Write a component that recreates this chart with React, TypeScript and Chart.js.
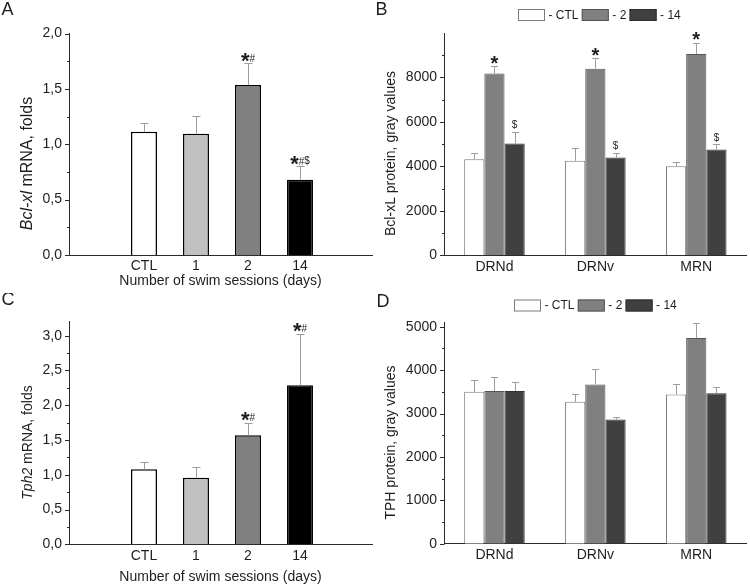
import React, { useEffect, useRef } from 'react';
import { Chart, registerables } from 'chart.js';

Chart.register(...registerables);

const FONT = '"Liberation Sans", Arial, Helvetica, sans-serif';
const INK = '#1e1e1e';
const AXIS = '#2a2a2a';
const ERR = '#9c9c9c';

// ---------- Panel A: Bcl-xl mRNA ----------
const sessionLabels = ['CTL', '1', '2', '14'];
const bclxlMrna = [1.113, 1.095, 1.535, 0.68];
const bclxlMrnaErr = [0.077, 0.157, 0.195, 0.12];
const bclxlMrnaMarks = ['', '', '*#', '*#$'];
const mrnaTicksA = [0, 0.5, 1.0, 1.5, 2.0];

// ---------- Panel C: Tph2 mRNA ----------
const tph2Mrna = [1.079, 0.958, 1.568, 2.287];
const tph2MrnaErr = [0.111, 0.149, 0.177, 0.733];
const tph2MrnaMarks = ['', '', '*#', '*#'];
const mrnaTicksC = [0, 0.5, 1.0, 1.5, 2.0, 2.5, 3.0];

const sessionFills = ['#ffffff', '#c0c0c0', '#808080', '#000000'];

// ---------- Panel B: Bcl-xL protein ----------
const regions = ['DRNd', 'DRNv', 'MRN'];
const groupNames = ['- CTL', '- 2', '- 14'];
const bclxlCTL = [4320, 4250, 4010];
const bclxlCTLErr = [290, 570, 170];
const bclxlDay2 = [8180, 8390, 9050];
const bclxlDay2Err = [320, 470, 510];
const bclxlDay14 = [5030, 4400, 4760];
const bclxlDay14Err = [520, 220, 230];
const bclxlCTLMarks = ['', '', ''];
const bclxlDay2Marks = ['*', '*', '*'];
const bclxlDay14Marks = ['$', '$', '$'];
const proteinTicksB = [0, 2000, 4000, 6000, 8000];

// ---------- Panel D: TPH protein ----------
const tphCTL = [3500, 3270, 3440];
const tphCTLErr = [270, 170, 240];
const tphDay2 = [3520, 3670, 4740];
const tphDay2Err = [330, 360, 340];
const tphDay14 = [3520, 2860, 3470];
const tphDay14Err = [210, 50, 130];
const noMarks = ['', '', ''];
const proteinTicksD = [0, 1000, 2000, 3000, 4000, 5000];

const groupFills = ['#ffffff', '#808080', '#404040'];
const groupBorders = ['#7a7a7a', '#555555', '#2e2e2e'];

type TitlePart = { text: string; italic?: boolean };
type Decor = {
  letter: string;
  letterX: number;
  letterY: number;
  title: TitlePart[];
  titleSize: number;
  titleX: number;
  titleY: number;
  majors: number[];
  minorStep: number;
  tickLimit: number;
  errors: number[][];
  marks: string[][];
  capW: number;
  starSize: number;
  smallSize: number;
  markGap: number;
  legend?: { x: number; y: number };
};

function drawMark(ctx: CanvasRenderingContext2D, s: string, cx: number, bottom: number, starSize: number, smallSize: number) {
  if (!s) return;
  const parts = s.split('').map((ch) => ({
    ch,
    font: ch === '*' ? `bold ${starSize}px ${FONT}` : `${smallSize}px ${FONT}`,
    w: 0,
    desc: 0,
  }));
  let total = 0;
  parts.forEach((p) => {
    ctx.font = p.font;
    const m = ctx.measureText(p.ch);
    p.w = m.width;
    p.desc = m.actualBoundingBoxDescent;
    total += p.w;
  });
  let x = cx - total / 2;
  ctx.fillStyle = INK;
  ctx.textAlign = 'left';
  ctx.textBaseline = 'alphabetic';
  parts.forEach((p) => {
    ctx.font = p.font;
    ctx.fillText(p.ch, x, bottom - p.desc);
    x += p.w;
  });
}

function decorPlugin(d: Decor) {
  return {
    id: 'decor' + d.letter,
    afterDraw(chart: any) {
      const ctx: CanvasRenderingContext2D = chart.ctx;
      const area = chart.chartArea;
      const ys = chart.scales.y;
      ctx.save();

      // panel letter
      ctx.fillStyle = INK;
      ctx.font = `18px ${FONT}`;
      ctx.textAlign = 'left';
      ctx.textBaseline = 'alphabetic';
      ctx.fillText(d.letter, d.letterX, d.letterY);

      // rotated y title (mixed styles)
      ctx.save();
      ctx.translate(d.titleX, d.titleY);
      ctx.rotate(-Math.PI / 2);
      ctx.textBaseline = 'middle';
      ctx.textAlign = 'left';
      const fonts = d.title.map((p) => `${p.italic ? 'italic ' : ''}${d.titleSize}px ${FONT}`);
      let tw = 0;
      const widths = d.title.map((p, i) => {
        ctx.font = fonts[i];
        const w = ctx.measureText(p.text).width;
        tw += w;
        return w;
      });
      let tx = -tw / 2;
      d.title.forEach((p, i) => {
        ctx.font = fonts[i];
        ctx.fillText(p.text, tx, 0);
        tx += widths[i];
      });
      ctx.restore();

      // y tick marks (major and minor, outward)
      ctx.strokeStyle = AXIS;
      ctx.lineWidth = 1;
      const left = Math.round(area.left) + 0.5;
      const n = Math.floor(d.tickLimit / d.minorStep + 1e-9);
      for (let i = 0; i <= n; i++) {
        const v = i * d.minorStep;
        const isMajor = d.majors.some((m) => Math.abs(m - v) < 1e-6);
        const y = Math.round(ys.getPixelForValue(v)) + 0.5;
        const len = isMajor ? 4.5 : 2.5;
        ctx.beginPath();
        ctx.moveTo(left - len, y);
        ctx.lineTo(left, y);
        ctx.stroke();
      }

      // error bars and significance marks
      chart.data.datasets.forEach((_ds: any, di: number) => {
        const meta = chart.getDatasetMeta(di);
        meta.data.forEach((el: any, i: number) => {
          const parsed = meta.controller.getParsed(i);
          const val = parsed.y;
          const err = d.errors[di][i];
          const yTop = el.y;
          const yErr = ys.getPixelForValue(val + err);
          const xx = Math.round(el.x) + 0.5;
          ctx.strokeStyle = ERR;
          ctx.lineWidth = 1;
          ctx.beginPath();
          ctx.moveTo(xx, yTop);
          ctx.lineTo(xx, Math.round(yErr) + 0.5);
          ctx.moveTo(xx - d.capW / 2, Math.round(yErr) + 0.5);
          ctx.lineTo(xx + d.capW / 2, Math.round(yErr) + 0.5);
          ctx.stroke();
          drawMark(ctx, d.marks[di][i], el.x, yErr - d.markGap, d.starSize, d.smallSize);
        });
      });

      // legend
      if (d.legend) {
        let x = d.legend.x;
        const y = d.legend.y;
        const bw = 27;
        const bh = 12;
        ctx.font = `12px ${FONT}`;
        ctx.textBaseline = 'middle';
        ctx.textAlign = 'left';
        groupNames.forEach((name, k) => {
          ctx.fillStyle = groupFills[k];
          ctx.fillRect(x, y, bw, bh);
          ctx.strokeStyle = groupBorders[k];
          ctx.lineWidth = 1;
          ctx.strokeRect(x + 0.5, y + 0.5, bw - 1, bh - 1);
          ctx.fillStyle = INK;
          ctx.fillText(name, x + bw + 3.5, y + bh / 2 + 0.5);
          x += bw + 3.5 + ctx.measureText(name).width + 3.3;
        });
      }
      ctx.restore();
    },
  };
}

const tickFont = { family: FONT, size: 14 };

function mrnaConfig(values: number[], ticks: number[], yMax: number, topPad: number, xAxisHeight: number, titlePad: number, decor: Decor): any {
  return {
    type: 'bar',
    data: {
      datasets: [
        {
          data: values.map((v, i) => ({ x: i, y: v })),
          backgroundColor: sessionFills,
          borderColor: '#000000',
          borderWidth: 1.5,
          borderSkipped: 'start',
          categoryPercentage: 0.5,
          barPercentage: 1,
        },
      ],
    },
    options: {
      responsive: false,
      animation: false,
      devicePixelRatio: 1,
      layout: { padding: { top: topPad, right: 3, bottom: 0, left: 0 } },
      plugins: { legend: { display: false }, tooltip: { enabled: false } },
      scales: {
        x: {
          type: 'linear',
          min: -1.442,
          max: 4.385,
          offset: false,
          afterBuildTicks: (s: any) => {
            s.ticks = sessionLabels.map((_, i) => ({ value: i }));
          },
          afterFit: (s: any) => {
            s.height = xAxisHeight;
          },
          ticks: {
            autoSkip: false,
            maxRotation: 0,
            minRotation: 0,
            padding: 3,
            color: INK,
            font: tickFont,
            callback: (v: any) => sessionLabels[v] ?? '',
          },
          grid: { display: false, drawTicks: false },
          border: { display: true, color: AXIS, width: 1 },
          title: {
            display: true,
            text: 'Number of swim sessions (days)',
            color: INK,
            font: tickFont,
            padding: { top: 0, bottom: titlePad },
          },
        },
        y: {
          type: 'linear',
          min: 0,
          max: yMax,
          afterBuildTicks: (s: any) => {
            s.ticks = ticks.map((v) => ({ value: v }));
          },
          afterFit: (s: any) => {
            s.width = 69;
          },
          ticks: {
            padding: 7,
            color: INK,
            font: tickFont,
            callback: (v: any) => Number(v).toFixed(1).replace('.', ','),
          },
          grid: { display: false, drawTicks: false },
          border: { display: true, color: AXIS, width: 1 },
        },
      },
    },
    plugins: [decorPlugin(decor)],
  };
}

function proteinConfig(series: number[][], ticks: number[], yMax: number, topPad: number, rightPad: number, xAxisHeight: number, decor: Decor): any {
  return {
    type: 'bar',
    data: {
      labels: regions,
      datasets: series.map((d, k) => ({
        label: groupNames[k],
        data: d,
        backgroundColor: groupFills[k],
        borderColor: groupBorders[k],
        borderWidth: 1,
        borderSkipped: 'start',
        categoryPercentage: 0.6,
        barPercentage: 1,
      })),
    },
    options: {
      responsive: false,
      animation: false,
      devicePixelRatio: 1,
      layout: { padding: { top: topPad, right: rightPad, bottom: 0, left: 0 } },
      plugins: { legend: { display: false }, tooltip: { enabled: false } },
      scales: {
        x: {
          type: 'category',
          offset: true,
          afterFit: (s: any) => {
            s.height = xAxisHeight;
          },
          ticks: { autoSkip: false, maxRotation: 0, minRotation: 0, padding: 3, color: INK, font: tickFont },
          grid: { display: false, drawTicks: false, offset: true },
          border: { display: true, color: AXIS, width: 1 },
        },
        y: {
          type: 'linear',
          min: 0,
          max: yMax,
          afterBuildTicks: (s: any) => {
            s.ticks = ticks.map((v) => ({ value: v }));
          },
          afterFit: (s: any) => {
            s.width = 69;
          },
          ticks: { padding: 7, color: INK, font: tickFont, callback: (v: any) => String(v) },
          grid: { display: false, drawTicks: false },
          border: { display: true, color: AXIS, width: 1 },
        },
      },
    },
    plugins: [decorPlugin(decor)],
  };
}

const configA = () =>
  mrnaConfig(bclxlMrna, mrnaTicksA, 2.0, 33.5, 38, 3, {
    letter: 'A', letterX: 1.5, letterY: 15,
    title: [{ text: 'Bcl-xl', italic: true }, { text: ' mRNA, folds' }],
    titleSize: 16, titleX: 28, titleY: 163.5,
    majors: mrnaTicksA, minorStep: 0.25, tickLimit: 2.0,
    errors: [bclxlMrnaErr], marks: [bclxlMrnaMarks],
    capW: 8, starSize: 22, smallSize: 10, markGap: 1.5,
  });

const configC = () =>
  mrnaConfig(tph2Mrna, mrnaTicksC, 3.2, 28.8, 41.7, 0.5, {
    letter: 'C', letterX: 1.5, letterY: 12,
    title: [{ text: 'Tph2', italic: true }, { text: ' mRNA, folds' }],
    titleSize: 14, titleX: 28, titleY: 149.5,
    majors: mrnaTicksC, minorStep: 0.25, tickLimit: 3.0,
    errors: [tph2MrnaErr], marks: [tph2MrnaMarks],
    capW: 8, starSize: 22, smallSize: 10, markGap: 2,
  });

const configB = () =>
  proteinConfig([bclxlCTL, bclxlDay2, bclxlDay14], proteinTicksB, 10000, 33, 3.3, 37.7, {
    letter: 'B', letterX: 0.5, letterY: 15,
    title: [{ text: 'Bcl-xL protein, gray values' }],
    titleSize: 14, titleX: 16.5, titleY: 153.5,
    majors: proteinTicksB, minorStep: 1000, tickLimit: 9000,
    errors: [bclxlCTLErr, bclxlDay2Err, bclxlDay14Err],
    marks: [bclxlCTLMarks, bclxlDay2Marks, bclxlDay14Marks],
    capW: 7, starSize: 20, smallSize: 10, markGap: 2.5,
    legend: { x: 143, y: 9 },
  });

const configD = () =>
  proteinConfig([tphCTL, tphDay2, tphDay14], proteinTicksD, 5100, 29.4, 3.3, 42.3, {
    letter: 'D', letterX: 1.5, letterY: 13.7,
    title: [{ text: 'TPH protein, gray values' }],
    titleSize: 14, titleX: 16.5, titleY: 149.5,
    majors: proteinTicksD, minorStep: 500, tickLimit: 5000,
    errors: [tphCTLErr, tphDay2Err, tphDay14Err],
    marks: [noMarks, noMarks, noMarks],
    capW: 7, starSize: 20, smallSize: 10, markGap: 2.5,
    legend: { x: 139, y: 6.5 },
  });

function Panel({ build, left, top }: { build: () => any; left: number; top: number }) {
  const ref = useRef<HTMLCanvasElement>(null);
  useEffect(() => {
    if (!ref.current) return;
    const chart = new Chart(ref.current, build());
    return () => chart.destroy();
  }, [build]);
  return (
    <div style={{ position: 'absolute', left, top, width: 375, height: 293 }}>
      <canvas ref={ref} width={375} height={293} style={{ width: 375, height: 293, display: 'block' }} />
    </div>
  );
}

export default function App() {
  return (
    <div style={{ position: 'absolute', left: 0, top: 0, width: 750, height: 586, background: '#ffffff', overflow: 'hidden' }}>
      <Panel build={configA} left={0} top={0} />
      <Panel build={configB} left={375} top={0} />
      <Panel build={configC} left={0} top={293} />
      <Panel build={configD} left={375} top={293} />
    </div>
  );
}
